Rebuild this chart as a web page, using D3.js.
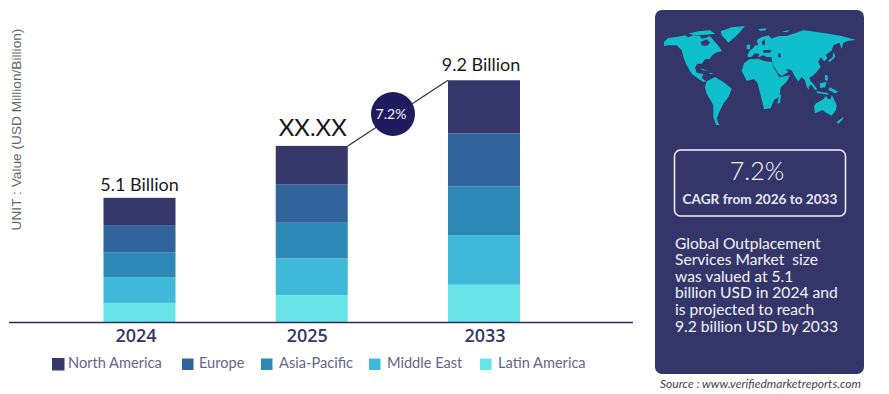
<!DOCTYPE html>
<html><head><meta charset="utf-8">
<script src="https://cdn.jsdelivr.net/npm/d3@7/dist/d3.min.js"></script>
<style>html,body{margin:0;padding:0;background:#fff}svg{display:block}text{font-family:Lato,sans-serif}</style>
</head><body><svg id="c" width="889" height="394"></svg>
<script>
const years = ["2024","2025","2033"];
const regions = ["North America","Europe","Asia-Pacific","Middle East","Latin America"];
const northAmerica = [1.04,1.46,2.02];
const europe = [1.03,1.47,2.02];
const asiaPacific = [0.95,1.35,1.86];
const middleEast = [0.98,1.40,1.89];
const latinAmerica = [0.73,1.03,1.42];
const totalLabels = ["5.1 Billion","XX.XX","9.2 Billion"];
const colors = ["#36376b","#30649b","#2e89b7","#40b8d8","#68e4e8"];
const cagr = "7.2%";
const cagrCaption = "CAGR from 2026 to 2033";
const unitLabel = "UNIT : Value (USD Million/Billion)";
const sourceText = "Source : www.verifiedmarketreports.com";
const summary = ["Global Outplacement","Services Market  size","was valued at 5.1","billion USD in 2024 and","is projected to reach","9.2 billion USD by 2033"];

// decorative world-map outlines (reference zoom space)
const land = [
 [[42,125],[55,114],[85,110],[105,106],[115,112],[130,106],[150,108],[155,116],[165,114],[180,108],[195,126],[208,141],[216,154],[202,156],[188,164],[180,176],[165,178],[155,191],[142,191],[135,203],[140,218],[152,221],[160,221],[155,234],[168,244],[160,246],[145,236],[125,221],[110,196],[102,176],[95,151],[80,136],[55,136],[42,138]],
 [[212,94],[245,82],[285,78],[270,96],[255,111],[235,128],[225,116],[215,106]],
 [[115,101],[145,94],[180,91],[195,101],[170,104],[135,106]],
 [[170,244],[195,231],[220,246],[245,266],[235,291],[220,311],[208,336],[200,356],[208,376],[198,374],[190,351],[190,316],[170,281],[165,261]],
 [[292,166],[300,151],[310,144],[315,136],[325,136],[320,121],[335,111],[355,106],[365,116],[385,108],[410,108],[430,101],[460,91],[500,96],[535,101],[575,108],[618,120],[595,122],[580,128],[575,146],[568,128],[550,136],[546,151],[528,164],[532,176],[522,184],[512,171],[505,186],[512,201],[500,216],[490,226],[478,234],[485,251],[476,261],[478,271],[470,261],[465,241],[455,231],[445,244],[435,231],[425,211],[408,206],[415,216],[395,228],[385,221],[367,191],[365,172],[350,171],[340,166],[325,172],[328,162],[315,160],[305,170],[295,172]],
 [[275,212],[282,190],[298,178],[325,176],[345,184],[365,186],[372,205],[388,232],[420,226],[410,245],[392,262],[388,290],[372,300],[362,325],[342,328],[332,285],[322,248],[312,238],[290,242]],
 [[388,285],[393,283],[390,308],[382,312]],
 [[492,318],[498,310],[520,298],[528,288],[535,298],[542,298],[545,284],[560,315],[558,330],[545,347],[528,338],[518,330],[495,340]],
 [[478,245],[485,245],[502,268],[495,270]],
 [[500,274],[535,280],[535,284],[500,279]],
 [[510,250],[530,245],[525,262],[510,264]],
 [[540,262],[565,275],[555,280],[535,270]],
 [[525,225],[532,226],[534,242],[525,240]],
 [[550,155],[556,170],[540,186],[534,182],[548,172]],
 [[560,366],[580,350],[578,358],[565,372]],
 [[290,135],[300,133],[300,148],[290,148]],
 [[325,87],[350,85],[345,92],[330,92]],
 [[395,95],[420,90],[410,97]],
 [[150,205],[175,212],[160,211]],
 [[178,218],[192,220],[180,223]]
];
const water = [
 [[152,126],[170,118],[180,128],[170,138],[155,136]],
 [[340,150],[365,150],[360,158],[340,158]],
 [[385,160],[392,160],[392,172],[385,172]],
 [[335,125],[345,118],[345,135],[338,135]]
];

const svg = d3.select("#c");
const baseY = 322, topY = 80;
const x = d3.scaleBand().domain(years).range([103.5,520]).paddingInner(0.582).paddingOuter(0);
const y = d3.scaleLinear().domain([0,9.22]).range([baseY,topY]);
const rows = years.map((yr,i)=>({year:yr,"North America":northAmerica[i],"Europe":europe[i],"Asia-Pacific":asiaPacific[i],"Middle East":middleEast[i],"Latin America":latinAmerica[i]}));
const stacked = d3.stack().keys(regions.slice().reverse())(rows);
const color = d3.scaleOrdinal().domain(regions).range(colors);

// bars
svg.append("g").selectAll("g").data(stacked).join("g").attr("fill",d=>color(d.key))
  .selectAll("rect").data(d=>d).join("rect")
  .attr("x",d=>x(d.data.year)).attr("width",x.bandwidth())
  .attr("y",d=>y(d[1])).attr("height",d=>y(d[0])-y(d[1]));

// axis
const axis = svg.append("g").attr("transform",`translate(0,${baseY})`)
  .call(d3.axisBottom(x).tickSize(0).tickPadding(7));
axis.select(".domain").remove();
const tickShift = {"2024":-3.5,"2025":-4.5,"2033":1};
axis.selectAll("text").attr("font-size",18).attr("font-weight",600).attr("fill","#34366a")
  .style("font-family","'Open Sans',sans-serif")
  .attr("dx",d=>tickShift[d]);
svg.append("line").attr("x1",9).attr("x2",633).attr("y1",baseY+0.5).attr("y2",baseY+0.5).attr("stroke","#2c2d5e").attr("stroke-width",1.5);

// totals
const tops = years.map((yr,i)=>y(northAmerica[i]+europe[i]+asiaPacific[i]+middleEast[i]+latinAmerica[i]));
const totalDx = [0,1,-3], totalDy = [7,10,9];
svg.append("g").selectAll("text").data(years).join("text")
  .attr("x",(d,i)=>x(d)+x.bandwidth()/2+totalDx[i]).attr("y",(d,i)=>tops[i]-totalDy[i])
  .attr("text-anchor","middle").attr("fill","#1a1a1a")
  .attr("font-size",(d,i)=>i===1?24:18).text((d,i)=>totalLabels[i]);

// growth connector
const bx1 = x("2025")+x.bandwidth(), bx2 = x("2033");
svg.append("line").attr("x1",bx1).attr("y1",tops[1]).attr("x2",bx2).attr("y2",tops[2]).attr("stroke","#2c2d5e").attr("stroke-width",1.2);
const cx = 393, cy = 114;
svg.append("circle").attr("cx",cx).attr("cy",cy).attr("r",22).attr("fill","#1e1b5e");
svg.append("text").attr("x",cx-2).attr("y",cy).attr("dy","0.35em").attr("text-anchor","middle").attr("fill","#f4f4fa").attr("font-size",14).text(cagr);

// unit label
svg.append("text").attr("transform","translate(21,129.5) rotate(-90)").attr("text-anchor","middle")
  .attr("font-size",13.7).attr("fill","#666").style("font-family","'Liberation Sans',sans-serif").text(unitLabel);

// legend
const legendBox = [52,182,261,369,480];
const legendTxt = [68,199,279,387,498];
const legend = svg.append("g").selectAll("g").data(regions).join("g");
legend.append("rect").attr("x",(d,i)=>legendBox[i]).attr("y",(d,i)=>i?358.5:358).attr("width",(d,i)=>i?11.5:12.5).attr("height",(d,i)=>i?11.5:12.5).attr("fill",d=>color(d));
legend.append("text").attr("x",(d,i)=>legendTxt[i]).attr("y",367.5).attr("font-size",14.6).attr("fill","#64668a").text(d=>d);

// side panel
svg.append("rect").attr("x",655).attr("y",10).attr("width",209).attr("height",364).attr("rx",7).attr("fill","#34366a");
const mx = d3.scaleLinear().domain([0,717]).range([650,889]);
const my = d3.scaleLinear().domain([0,450]).range([0,150]);
const ring = d3.line().x(d=>mx(d[0])).y(d=>my(d[1]));
svg.append("g").attr("fill","#0fbfcc").selectAll("path").data(land).join("path").attr("d",d=>ring(d)+"Z");
svg.append("g").attr("fill","#34366a").selectAll("path").data(water).join("path").attr("d",d=>ring(d)+"Z");

svg.append("rect").attr("x",674.5).attr("y",150).attr("width",171).attr("height",66).attr("rx",6).attr("fill","none").attr("stroke","#f2f3f8").attr("stroke-width",1.5);
svg.append("text").attr("x",757).attr("y",180).attr("text-anchor","middle").attr("font-size",25).attr("font-weight",300).attr("fill","#fff").text(cagr);
svg.append("text").attr("x",760).attr("y",204).attr("text-anchor","middle").attr("font-size",13.6).attr("font-weight",700).attr("fill","#e8e9f2").text(cagrCaption);
svg.append("g").selectAll("text").data(summary).join("text")
  .attr("x",675).attr("y",(d,i)=>248.5+i*16.6).attr("font-size",15.6).attr("fill","#f2f3f8").style("white-space","pre").text(d=>d);
svg.append("text").attr("x",861).attr("y",388).attr("text-anchor","end").attr("font-size",12).attr("font-style","italic").attr("fill","#444").text(sourceText);
</script></body></html>
